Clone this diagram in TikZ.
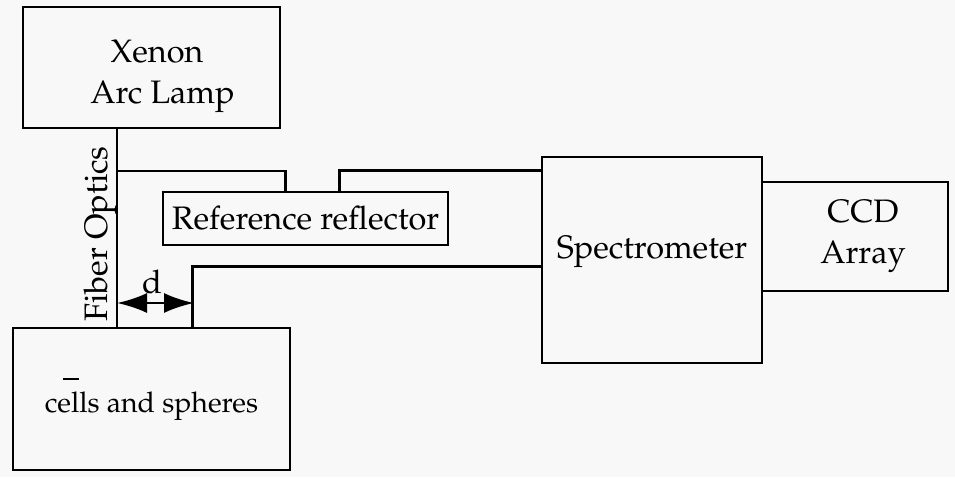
\documentclass[tikz,border=0pt]{standalone}
\usepackage[T1]{fontenc}
\usepackage{palatino}
\usetikzlibrary{arrows.meta}
\tikzset{>={Latex[length=30pt,width=20pt]}}
\definecolor{paper}{HTML}{F7F8F7}
\newcommand\bigtext{\fontsize{32.5}{41}\selectfont}
\newcommand\midtext{\fontsize{28.5}{36}\selectfont}
\tikzstyle{box}=[draw,line width=2.8pt,inner sep=0pt,align=center,font=\bigtext]
\tikzstyle{wire}=[line width=2.5pt]

\begin{document}
\begin{tikzpicture}[x=1pt,y=-1pt]
  \fill[paper] (0,0) rectangle (955,477);
  \useasboundingbox (0,0) rectangle (955,477);
  \node[box,minimum width=257pt,minimum height=121pt] (lamp) at (151.5,67.5)
    {\raisebox{-13.5pt}[0pt][0pt]{\begin{tabular}{@{}c@{}}\hspace*{11pt}Xenon\\\hspace*{22pt}Arc Lamp\end{tabular}}};
  \node[box,minimum width=285pt,minimum height=53pt] (ref) at (305.5,218.5) {Reference reflector};
  \node[box,minimum width=277pt,minimum height=142pt,font=\midtext] (cells) at (151.5,399)
    {\raisebox{-13pt}[0pt][0pt]{cells and spheres}};
  \node[box,minimum width=220pt,minimum height=206pt] (spec) at (652,260)
    {\raisebox{2pt}[0pt][0pt]{Spectrometer}};
  \node[box,minimum width=186pt,minimum height=109pt] (ccd) at (855,236.5)
    {\hspace*{16pt}CCD\\\hspace*{16pt}Array};
  % fibre bundle and its branches
  \coordinate (fib) at (117,0);
  \coordinate (split) at (117,171);
  \draw[wire] (lamp.south -| fib) -- (cells.north -| fib);
  \draw[wire] (split) -| ([xshift=124pt]ref.north west);
  \draw[wire] ([xshift=178pt]ref.north west) |- ([yshift=-15pt]spec.north west);
  \draw[wire] ([xshift=181pt]cells.north west) |- ([yshift=-111pt]spec.north west);
  \node[font=\bigtext,rotate=90] (fiblab) at (100,234) {Fiber Optics};
  % distance d
  \coordinate (dl) at (117,303);
  \coordinate (dr) at (194,303);
  \draw[<->,wire] (dl) -- (dr);
  \node[font=\bigtext] (dlab) at (152,282) {d};
  \draw[line width=1.5pt] (63,379) -- (79,379);
\end{tikzpicture}
\end{document}
